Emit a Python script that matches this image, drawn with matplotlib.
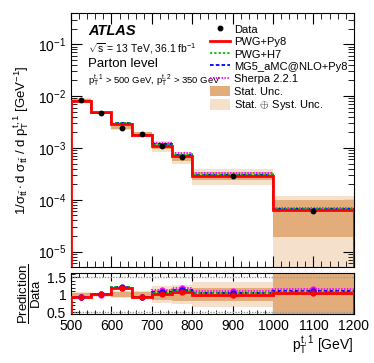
import matplotlib
matplotlib.use('Agg')
import matplotlib.pyplot as plt
import numpy as np
from matplotlib.ticker import MultipleLocator, LogLocator, NullFormatter, FixedLocator
from matplotlib.patches import Patch
from matplotlib.lines import Line2D

plt.rcParams['font.family'] = ['Liberation Sans', 'DejaVu Sans']
plt.rcParams['mathtext.fontset'] = 'custom'
plt.rcParams['mathtext.rm'] = 'Liberation Sans'
plt.rcParams['mathtext.it'] = 'Liberation Sans'
plt.rcParams['mathtext.bf'] = 'Liberation Sans:bold'

# bins in leading top pT
edges = [500, 550, 600, 650, 700, 750, 800, 1000, 1200]
data = [8.5e-3, 4.7e-3, 2.45e-3, 1.86e-3, 1.09e-3, 6.6e-4, 2.9e-4, 6.0e-5]

# relative uncertainties of the data (up / down)
stat_up = [0.05, 0.04, 0.07, 0.07, 0.14, 0.17, 0.20, 0.63]
stat_dn = [0.05, 0.04, 0.07, 0.07, 0.14, 0.17, 0.18, 0.68]
tot_up = [0.08, 0.06, 0.10, 0.10, 0.25, 0.27, 0.36, 1.00]
tot_dn = [0.08, 0.06, 0.10, 0.10, 0.25, 0.27, 0.35, 0.95]

# prediction / data
r_pwgpy8 = [0.935, 1.03, 1.20, 0.935, 1.01, 1.08, 1.00, 1.06]
r_pwgh7 = [0.93, 1.02, 1.21, 0.94, 1.06, 1.13, 1.04, 1.09]
r_mg5 = [0.93, 1.02, 1.22, 0.94, 1.07, 1.13, 1.05, 1.10]
r_sherpa = [0.93, 1.00, 1.20, 0.93, 1.13, 1.19, 1.11, 1.17]

labels = ['PWG+Py8', 'PWG+H7', 'MG5_aMC@NLO+Py8', 'Sherpa 2.2.1']
colors = ['#ff0000', '#00bb00', '#0000ff', '#ff00ff']
styles = ['-', (0, (1.2, 1.2)), (0, (2, 1.2)), (0, (0.8, 0.8))]
ratios = [r_pwgpy8, r_pwgh7, r_mg5, r_sherpa]

edges = np.array(edges)
data = np.array(data)
lefts = edges[:-1]
widths = np.diff(edges)
centers = lefts + widths / 2

stat_col = '#e3ad7b'
tot_col = '#f5e0cc'

fig = plt.figure(figsize=(3.74, 3.63), dpi=100)
ax = fig.add_axes([0.19, 0.264, 0.756, 0.700])
rx = fig.add_axes([0.19, 0.135, 0.756, 0.113])

# main panel
ax.bar(lefts, data * (np.array(tot_up) + np.array(tot_dn)), bottom=data * (1 - np.array(tot_dn)),
       width=widths, align='edge', color=tot_col, linewidth=0, zorder=1)
ax.bar(lefts, data * (np.array(stat_up) + np.array(stat_dn)), bottom=data * (1 - np.array(stat_dn)),
       width=widths, align='edge', color=stat_col, linewidth=0, zorder=2)
for r, c, ls, lab in list(zip(ratios, colors, styles, labels))[::-1]:
    lw = 2.0 if ls == '-' else 1.3
    ax.stairs(data * np.array(r), edges, color=c, linestyle=ls, linewidth=lw, zorder=3)
ax.plot(centers, data, 'o', color='black', markersize=3.2, zorder=5)

ax.set_yscale('log')
ax.set_xlim(500, 1200)
ax.set_ylim(5e-6, 0.4)
ax.set_ylabel(r'$1/\sigma_{t\bar{t}}\cdot\mathrm{d}\ \sigma_{t\bar{t}}\ /\ \mathrm{d}\ p_{\mathrm{T}}^{t,1}\ [\mathrm{GeV}^{-1}]$',
              fontsize=9.5)
ax.yaxis.set_label_coords(-0.14, 0.5)
ax.yaxis.set_major_locator(LogLocator(base=10, numticks=10))
ax.yaxis.set_minor_locator(LogLocator(base=10, subs=np.arange(2, 10), numticks=20))
ax.yaxis.set_minor_formatter(NullFormatter())
ax.xaxis.set_major_locator(MultipleLocator(100))
ax.xaxis.set_minor_locator(MultipleLocator(20))
ax.tick_params(which='both', direction='in', top=True, right=True, labelsize=10, labelbottom=False)
ax.tick_params(which='major', length=8)
ax.tick_params(which='minor', length=4)

ax.text(0.06, 0.93, 'ATLAS', transform=ax.transAxes, fontsize=10.5, fontweight='bold',
        fontstyle='italic', va='center')
ax.text(0.06, 0.86, r'$\sqrt{s}$ = 13 TeV, 36.1 fb$^{-1}$', transform=ax.transAxes, fontsize=7.5, va='center')
ax.text(0.06, 0.80, 'Parton level', transform=ax.transAxes, fontsize=9.5, va='center')
ax.text(0.06, 0.735, r'$p_{\mathrm{T}}^{t,1}$ > 500 GeV, $p_{\mathrm{T}}^{t,2}$ > 350 GeV',
        transform=ax.transAxes, fontsize=6.8, va='center')

handles = [Line2D([], [], marker='o', color='black', linestyle='none', markersize=3.2)]
for c, ls, lab in zip(colors, styles, labels):
    handles.append(Line2D([], [], color=c, linestyle=ls, linewidth=2.0 if ls == '-' else 1.3))
handles.append(Patch(facecolor=stat_col, edgecolor='none'))
handles.append(Patch(facecolor=tot_col, edgecolor='none'))
leg = ax.legend(handles, ['Data'] + labels + ['Stat. Unc.', r'Stat. $\oplus$ Syst. Unc.'],
                loc='upper right', bbox_to_anchor=(1.0, 0.985), frameon=False, fontsize=8,
                handlelength=1.8, handleheight=1.1, handletextpad=0.35, labelspacing=0.12,
                borderaxespad=0.2)

# ratio panel
rx.bar(lefts, np.array(tot_up) + np.array(tot_dn), bottom=1 - np.array(tot_dn),
       width=widths, align='edge', color=tot_col, linewidth=0, zorder=1)
rx.bar(lefts, np.array(stat_up) + np.array(stat_dn), bottom=1 - np.array(stat_dn),
       width=widths, align='edge', color=stat_col, linewidth=0, zorder=2)
for y in [0.5, 1.5]:
    rx.axhline(y, color='#999999', linestyle=(0, (1, 1)), linewidth=1.0, zorder=2)
for r, c, ls in list(zip(ratios, colors, styles))[::-1]:
    lw = 2.0 if ls == '-' else 1.3
    rx.stairs(r, edges, color=c, linestyle=ls, linewidth=lw, zorder=3)
    if c != '#00bb00':
        rx.plot(centers, r, 'o', color=c, markersize=3.5, zorder=4)

rx.set_xlim(500, 1200)
rx.set_ylim(0.45, 1.62)
rx.yaxis.set_major_locator(FixedLocator([0.5, 1, 1.5]))
rx.set_yticklabels(['0.5', '1', '1.5'])
rx.yaxis.set_minor_locator(MultipleLocator(0.1))
rx.xaxis.set_major_locator(MultipleLocator(100))
rx.xaxis.set_minor_locator(MultipleLocator(20))
rx.tick_params(which='both', direction='in', top=True, right=True, labelsize=10)
rx.tick_params(which='major', length=6)
rx.tick_params(which='minor', length=3)
rx.set_ylabel(r'$\dfrac{\mathrm{Prediction}}{\mathrm{Data}}$', fontsize=9.5)
rx.yaxis.set_label_coords(-0.10, 0.5)
rx.set_xlabel(r'$p_{\mathrm{T}}^{t,1}$ [GeV]', fontsize=10, loc='right', labelpad=1)

fig.savefig('out.png', dpi=100)
